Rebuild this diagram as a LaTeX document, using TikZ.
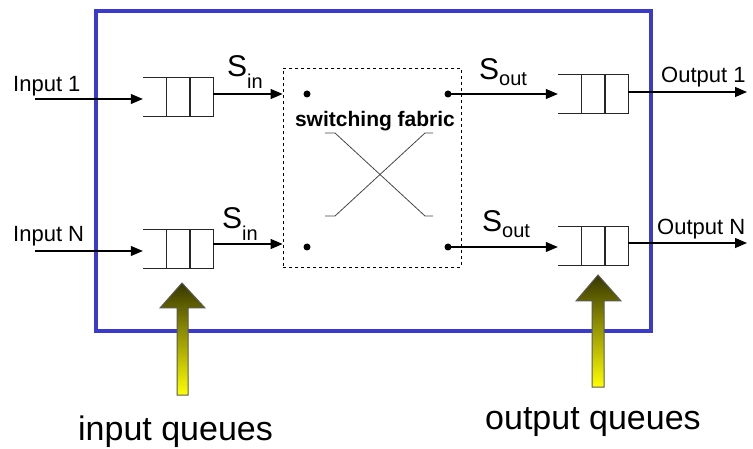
\documentclass[tikz,border=0pt]{standalone}
\usepackage{fontspec}
\setmainfont{Liberation Sans}
\usetikzlibrary{arrows.meta,positioning,calc}
\definecolor{frameblue}{RGB}{58,58,205}
\definecolor{darkolive}{RGB}{55,55,0}
\definecolor{crossgray}{RGB}{70,70,70}
\newcommand{\rate}[2][6pt]{S\raisebox{-#1}{\fontsize{20}{22}\selectfont #2}}
\tikzset{
  flow/.style={line width=1.1pt,-{Triangle[length=12pt,width=10pt]}},
  queuebox/.style={minimum width=70pt,minimum height=38pt,inner sep=0pt},
  cell/.style={line width=1.1pt,black!85},
  port/.style={circle,fill=black,inner sep=0pt,minimum size=7pt},
  portlabel/.style={font=\fontsize{22}{24}\selectfont,inner sep=0pt,anchor=base west},
  ratelabel/.style={font=\fontsize{30}{32}\selectfont,inner sep=0pt,anchor=base west},
  caption/.style={font=\fontsize{34}{38}\selectfont,inner sep=0pt,anchor=base west},
  pointer/.style={draw=black!65,line width=1pt,top color=darkolive,bottom color=yellow},
  router/.style={draw=frameblue,line width=4pt},
  fabric/.style={draw,dashed,line width=0.8pt,minimum width=178pt,minimum height=199pt,inner sep=0pt}
}

\begin{document}
\begin{tikzpicture}[x=1pt,y=-1pt]
  \useasboundingbox (0,0) rectangle (753,449);
  % queues
  \node[queuebox] (qin1) at (178,97) {};
  \node[queuebox] (qinN) at (178,249) {};
  \node[queuebox] (qout1) at (593,94) {};
  \node[queuebox] (qoutN) at (593,246) {};
  \foreach \q in {qin1,qinN,qout1,qoutN} {
    \draw[cell] (\q.north west) -- (\q.north east) -- (\q.south east) -- (\q.south west);
    \draw[cell] ($(\q.north west)!0.34!(\q.north east)$) -- ($(\q.south west)!0.34!(\q.south east)$);
    \draw[cell] ($(\q.north west)!0.67!(\q.north east)$) -- ($(\q.south west)!0.67!(\q.south east)$);
  }
  % switching fabric
  \node[fabric] (fab) at (372,167.5) {};
  \node[port] (pin1) at (307,94) {};
  \node[port] (pinN) at (307,247) {};
  \node[port] (pout1) at (448,94) {};
  \node[port] (poutN) at (448,247) {};
  \node[font=\fontsize{21}{24}\selectfont\bfseries,inner sep=0pt] (fablabel) at (375,121) {switching fabric};
  \draw[crossgray,line width=0.8pt] (325,133) -- (335,133) -- (425,216) -- (433,216);
  \draw[crossgray,line width=0.8pt] (325,216) -- (335,216) -- (425,133) -- (433,133);
  % router frame
  \draw[router] (96,11) rectangle (651,331);
  % inputs
  \coordinate (in1) at (35,99);
  \coordinate (inN) at (35,251);
  \draw[flow] (in1) -- (qin1.west |- in1);
  \draw[flow] (inN) -- (qinN.west |- inN);
  \node[portlabel] (lin1) at (13,92) {Input 1};
  \node[portlabel] (linN) at (13,242) {Input N};
  \draw[flow] (qin1.east |- 0,94) -- (fab.west |- 0,94);
  \draw[flow] (qinN.east |- 0,244) -- (fab.west |- 0,244);
  \node[ratelabel] (sin1) at (227,77) {\rate[12pt]{in}};
  \node[ratelabel] (sinN) at (222,229) {\rate[12pt]{in}};
  % outputs
  \draw[flow] (pout1.center) -- (qout1.west |- pout1);
  \draw[flow] (poutN.center) -- (qoutN.west |- poutN);
  \node[ratelabel] (sout1) at (479,80) {\rate{out}};
  \node[ratelabel] (soutN) at (482,232) {\rate{out}};
  \coordinate (out1) at (747,92);
  \coordinate (outN) at (747,243);
  \draw[flow] (qout1.east |- out1) -- (out1);
  \draw[flow] (qoutN.east |- outN) -- (outN);
  \node[portlabel] (lout1) at (661,83) {Output 1};
  \node[portlabel] (loutN) at (657,235) {Output N};
  % pointers to queues
  \shade[pointer] (177,395) -- (177,308) -- (160,308) -- (182,283) -- (205,308) -- (188,308) -- (188,395) -- cycle;
  \shade[pointer] (592,387) -- (592,301) -- (576,301) -- (598,275) -- (621,301) -- (604,301) -- (604,387) -- cycle;
  \node[caption] (capin) at (78,440) {input queues};
  \node[caption] (capout) at (485,429) {output queues};
\end{tikzpicture}
\end{document}
